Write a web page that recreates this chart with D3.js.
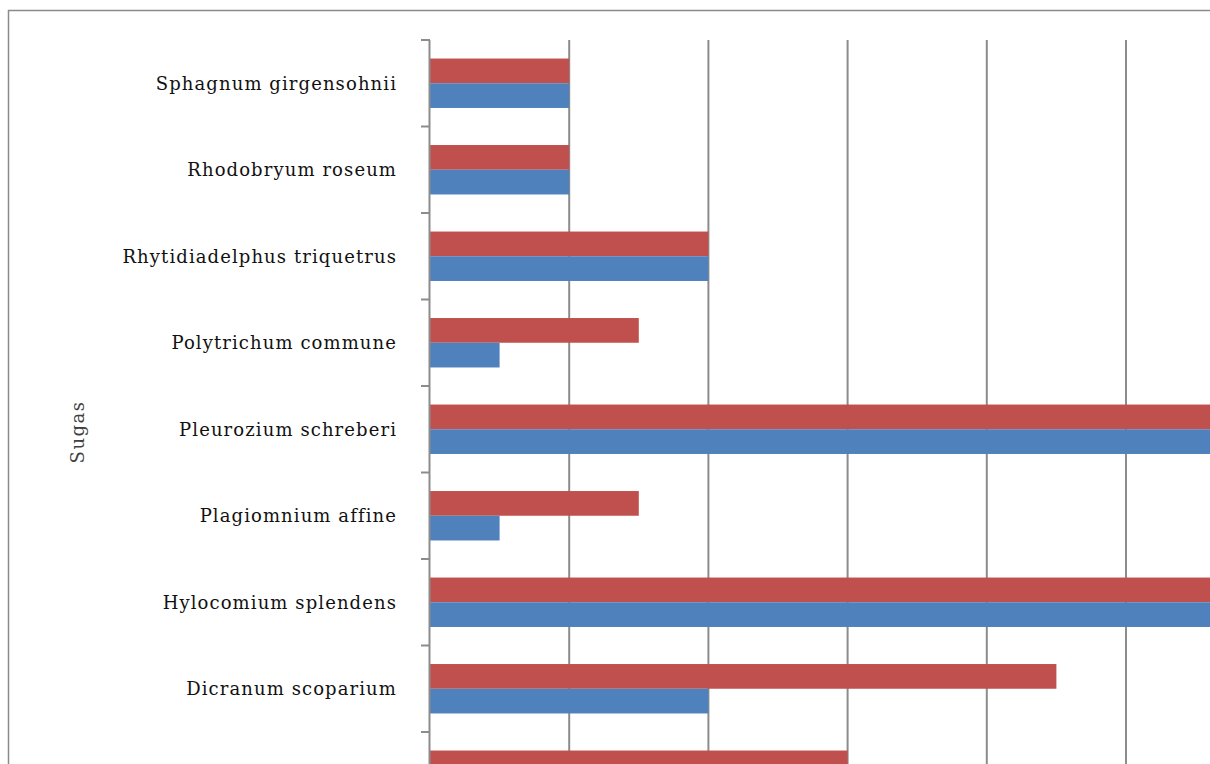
<!DOCTYPE html>
<html>
<head>
<meta charset="utf-8">
<script src="https://cdn.jsdelivr.net/npm/d3@7"></script>
<style>
  html, body { margin: 0; padding: 0; background: #fff; overflow: hidden; }
  svg { display: block; }
</style>
</head>
<body>
<svg id="chart" width="1210" height="764"></svg>
<script>
// ---- data ----
// the ninth category is cut off at the bottom of the reference; its name is not visible
const categories = [
  "Sphagnum girgensohnii",
  "Rhodobryum roseum",
  "Rhytidiadelphus triquetrus ",
  "Polytrichum commune",
  "Pleurozium schreberi",
  "Plagiomnium affine",
  "Hylocomium splendens ",
  "Dicranum scoparium",
  ""
];
const seriesNames = ["red", "blue"];
const redValues  = [1, 1, 2, 1.5, 6, 1.5, 6, 4.5, 3];
const blueValues = [1, 1, 2, 0.5, 6, 0.5, 6, 2, 1];
const xTicks = [0, 1, 2, 3, 4, 5, 6];
const axisTitle = "Sugas";

// ---- layout ----
const svg = d3.select("#chart");
const plotLeft = 430, plotTop = 40;
const unitPx = 139.2, stepPx = 86.5;

const x = d3.scaleLinear().domain([0, 6]).range([plotLeft, plotLeft + 6 * unitPx]);
const y = d3.scaleBand()
  .domain(categories)
  .range([plotTop, plotTop + categories.length * stepPx])
  .paddingInner(1.5 / 3.5)
  .paddingOuter(0.75 / 3.5);
const sub = d3.scaleBand().domain(seriesNames).range([0, y.bandwidth()]);
const colors = { red: "#C0504D", blue: "#4F81BD" };
const plotBottom = plotTop + categories.length * stepPx;

// frame
svg.append("path")
  .attr("d", `M8.5,${plotBottom + 100} L8.5,10.5 L1300,10.5`)
  .attr("fill", "none").attr("stroke", "#8a8a8a").attr("stroke-width", 1.5);

// gridlines
svg.append("g").selectAll("line").data(xTicks.slice(1)).join("line")
  .attr("x1", d => x(d)).attr("x2", d => x(d))
  .attr("y1", plotTop).attr("y2", plotBottom)
  .attr("stroke", "#8c8c8c").attr("stroke-width", 2);

// bars
const rows = categories.map((c, i) => ({ cat: c, red: redValues[i], blue: blueValues[i] }));
const g = svg.append("g");
rows.forEach(r => {
  seriesNames.forEach(s => {
    g.append("rect")
      .attr("x", x(0))
      .attr("y", y(r.cat) + sub(s))
      .attr("width", x(r[s]) - x(0))
      .attr("height", sub.bandwidth())
      .attr("fill", colors[s]);
  });
});

// category axis
const boundaries = categories.map((c, i) => plotTop + i * stepPx).concat([plotBottom]);
svg.append("line")
  .attr("x1", plotLeft - 0.5).attr("x2", plotLeft - 0.5)
  .attr("y1", plotTop).attr("y2", plotBottom)
  .attr("stroke", "#8c8c8c").attr("stroke-width", 2);
svg.append("g").selectAll("line").data(boundaries).join("line")
  .attr("x1", plotLeft - 9).attr("x2", plotLeft)
  .attr("y1", d => d).attr("y2", d => d)
  .attr("stroke", "#8c8c8c").attr("stroke-width", 2);

svg.append("g").selectAll("text").data(categories.filter(c => c !== "")).join("text")
  .attr("x", 397)
  .attr("y", d => y(d) + y.bandwidth() / 2)
  .attr("dy", "0.35em")
  .attr("text-anchor", "end")
  .attr("font-family", "'DejaVu Serif', serif")
  .attr("font-size", 18)
  .attr("letter-spacing", 1.1)
  .attr("fill", "#111")
  .text(d => d);

svg.append("text")
  .attr("transform", `translate(84,432) rotate(-90)`)
  .attr("text-anchor", "middle")
  .attr("font-family", "'DejaVu Serif', serif")
  .attr("font-size", 18)
  .attr("letter-spacing", 1.5)
  .attr("fill", "#404040")
  .text(axisTitle);
</script>
</body>
</html>
